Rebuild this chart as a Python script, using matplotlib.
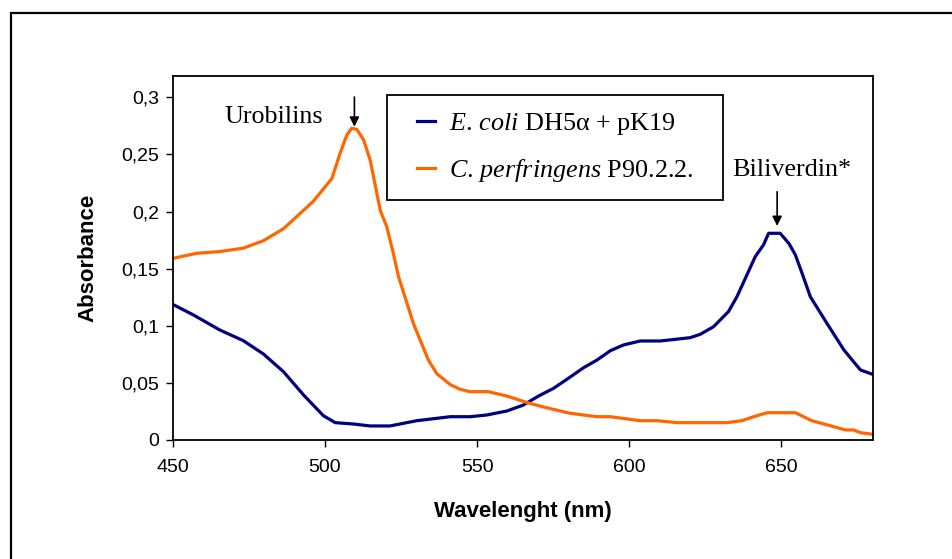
import matplotlib
matplotlib.use("Agg")
import matplotlib.pyplot as plt
from matplotlib.patches import Rectangle
from matplotlib.legend_handler import HandlerLine2D

# ---- data ----
ecoli_wl = [450, 456.8, 465.5, 473.2, 479.8, 486.4, 493, 499.5, 503.4, 509.4, 514.9, 521.4,
            530.2, 541.2, 547.7, 553.2, 559.8, 565.2, 570.2, 575.1, 579.5, 585, 589.4, 593.8,
            598.1, 603.6, 610.2, 620, 623.3, 627.7, 632.6, 635.4, 638.4, 641.4, 644.1, 645.8,
            649.6, 652.5, 654.6, 656.8, 659.5, 665, 670.5, 673.7, 676, 680]
ecoli_abs = [0.1188, 0.1095, 0.0963, 0.087, 0.0753, 0.0598, 0.0394, 0.0213, 0.0152, 0.014,
             0.0123, 0.0123, 0.0169, 0.0204, 0.0204, 0.0219, 0.0254, 0.0306, 0.0385, 0.0452,
             0.0531, 0.0633, 0.070, 0.0782, 0.0832, 0.0867, 0.0867, 0.0896, 0.0925, 0.0992,
             0.1124, 0.1255, 0.143, 0.1605, 0.1708, 0.181, 0.181, 0.172, 0.162, 0.146, 0.1255,
             0.102, 0.079, 0.0686, 0.0613, 0.0575]

cperf_wl = [450, 457.9, 465.5, 473.2, 479.8, 486.4, 496.2, 502.3, 505, 507.2, 508.8, 510.5,
            512.7, 514.9, 518.2, 520.3, 522.5, 524.2, 529.1, 534, 536.8, 541.2, 544.4, 547.7,
            553.7, 559.8, 567.4, 574, 580.6, 589.4, 593.8, 603.6, 609.1, 615.7, 632.1, 637,
            640.9, 645.3, 654.6, 660, 666.1, 671, 673.7, 676, 680]
cperf_abs = [0.159, 0.1635, 0.165, 0.168, 0.1745, 0.185, 0.209, 0.229, 0.251, 0.267, 0.273,
             0.272, 0.263, 0.245, 0.201, 0.187, 0.1635, 0.143, 0.102, 0.070, 0.058, 0.0485,
             0.0444, 0.0423, 0.0423, 0.0385, 0.032, 0.0275, 0.0234, 0.0204, 0.0204, 0.0169,
             0.0169, 0.0152, 0.0152, 0.0169, 0.0204, 0.0239, 0.0239, 0.0169, 0.0125, 0.0088,
             0.0088, 0.0064, 0.005]

series_labels = [r"$\it{E.\,coli}$ DH5α + pK19", r"$\it{C.\,perfringens}$ P90.2.2."]
x_ticks = [450, 500, 550, 600, 650]
y_ticks = [0, 0.05, 0.1, 0.15, 0.2, 0.25, 0.3]
y_tick_labels = ["0", "0,05", "0,1", "0,15", "0,2", "0,25", "0,3"]
x_label = "Wavelenght (nm)"
y_label = "Absorbance"


class ShortLineHandler(HandlerLine2D):
    """Draw the legend line only in the right part of the handle box."""
    def create_artists(self, legend, orig_handle, xdescent, ydescent, width, height,
                       fontsize, trans):
        arts = super().create_artists(legend, orig_handle, xdescent, ydescent, width,
                                      height, fontsize, trans)
        line = arts[0]
        xd = list(line.get_xdata())
        x0, x1 = xd[0], xd[-1]
        line.set_xdata([x0 + 0.44 * (x1 - x0), x1])
        line.set_ydata([line.get_ydata()[0]] * 2)
        return arts


# ---- figure ----
W, H = 953, 559
fig = plt.figure(figsize=(W / 100, H / 100), dpi=100)
plt.rcParams['mathtext.fontset'] = 'custom'
plt.rcParams['mathtext.it'] = 'Liberation Serif:italic'
plt.rcParams['mathtext.rm'] = 'Liberation Serif'

# outer frame
fig.patches.append(Rectangle((10.5 / W, -0.1), 1.2, 1.1 - 13 / H,
                             transform=fig.transFigure, fill=False,
                             edgecolor='black', linewidth=1.6))

ax = fig.add_axes([172.7 / W, 1 - 440 / H, 700 / W, 364.3 / H])
l1, = ax.plot(ecoli_wl, ecoli_abs, color='#000080', lw=2.3, solid_joinstyle='round',
              label=series_labels[0])
l2, = ax.plot(cperf_wl, cperf_abs, color='#FF6600', lw=2.3, solid_joinstyle='round',
              label=series_labels[1])

ax.set_xlim(450, 680)
ax.set_ylim(0, 0.319)
ax.set_xticks(x_ticks)
ax.set_yticks(y_ticks)
ax.set_yticklabels(y_tick_labels)
for s in ax.spines.values():
    s.set_linewidth(1.3)
    s.set_color('black')
ax.tick_params(direction='out', length=5, width=1, labelsize=14, pad=5)
for lab in ax.get_xticklabels() + ax.get_yticklabels():
    lab.set_fontfamily('Liberation Sans')
ax.tick_params(axis='x', pad=9)

ax.set_xlabel(x_label, fontfamily='Liberation Sans', fontweight='bold', fontsize=16,
              va='center')
ax.xaxis.set_label_coords(0.5, (440 - 512) / 364.3)
ax.set_ylabel(y_label, fontfamily='Liberation Sans', fontweight='bold', fontsize=16,
              va='center')
ax.yaxis.set_label_coords((88 - 172.7) / 700, 0.5)

lx0 = (387.3 - 172.7) / 700
ly1 = (440 - 95) / 364.3
lw_ = (723 - 387.3) / 700
lh_ = (193 - 95) / 364.3
leg = ax.legend(handles=[l1, l2], loc='upper left',
                bbox_to_anchor=(lx0, ly1 - lh_, lw_, lh_), mode='expand',
                borderaxespad=0, fancybox=False, frameon=True, edgecolor='black',
                prop={'family': 'Liberation Serif', 'size': 18.8}, handlelength=1.21,
                handletextpad=0.53, borderpad=0.62, labelspacing=0.75,
                handler_map={l1: ShortLineHandler(), l2: ShortLineHandler()})
leg.get_frame().set_linewidth(1.3)
leg.get_frame().set_alpha(1)

# annotations
ax.annotate("", xy=(509.7, 0.2743), xytext=(509.7, 0.3003),
            arrowprops=dict(arrowstyle='-|>', color='black', lw=1.2,
                            mutation_scale=14, shrinkA=0, shrinkB=0))
ax.text(483.1, 0.283, "Urobilins", fontfamily='Liberation Serif', fontsize=18.8,
        ha='center', va='center')
ax.annotate("", xy=(648.6, 0.1874), xytext=(648.6, 0.2174),
            arrowprops=dict(arrowstyle='-|>', color='black', lw=1.2,
                            mutation_scale=14, shrinkA=0, shrinkB=0))
ax.text(653.5, 0.2364, "Biliverdin*", fontfamily='Liberation Serif', fontsize=18.8,
        ha='center', va='center')

fig.savefig("out.png", dpi=100)
